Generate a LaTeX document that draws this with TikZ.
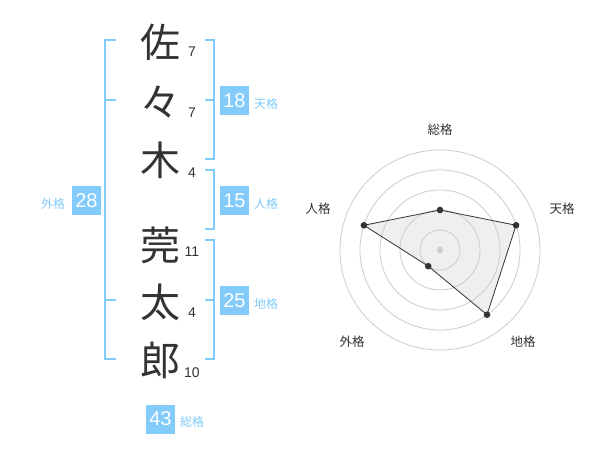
\documentclass[tikz,border=0pt]{standalone}
\usepackage{fontspec}
\setmainfont{Liberation Sans}
\newfontfamily\jp{Noto Sans CJK JP}
\usetikzlibrary{calc}
\definecolor{kakublue}{HTML}{82CBFA}
\definecolor{inkgrey}{HTML}{333333}
\definecolor{ringgrey}{HTML}{CCCCCC}
\tikzset{
	kanji/.style={font=\jp\fontsize{40}{40}\selectfont, text=inkgrey, inner sep=0pt},
	strokes/.style={font=\fontsize{14}{14}\selectfont, text=inkgrey, inner sep=0pt},
	kakubox/.style={fill=kakublue, text=white, minimum size=29pt, inner sep=0pt, font=\fontsize{20}{20}\selectfont},
	kakuname/.style={font=\jp\fontsize{12}{12}\selectfont, text=kakublue, inner sep=0pt},
	bracket/.style={draw=kakublue, line width=2pt},
	radarname/.style={font=\jp\fontsize{12.5}{12.5}\selectfont, text=inkgrey, inner sep=0pt},
	ring/.style={draw=ringgrey, line width=0.8pt}
}

\begin{document}
\begin{tikzpicture}[x=1pt, y=-1pt]
		%%%%% START %%%%%
		\useasboundingbox[fill=white] (0, 0) rectangle (600, 470);
		
		\node[kanji] (c1) at (160, 42) {佐};
		\node[kanji] (c2) at (160, 102) {々};
		\node[kanji] (c3) at (160, 160) {木};
		\node[kanji] (c4) at (160, 245) {莞};
		\node[kanji] (c5) at (160, 302) {太};
		\node[kanji] (c6) at (160, 360) {郎};
		
		\node[strokes] (s1) at (192, 52) {7};
		\node[strokes] (s2) at (192, 113) {7};
		\node[strokes] (s3) at (192, 173) {4};
		\node[strokes] (s4) at (192, 252) {11};
		\node[strokes] (s5) at (192, 313) {4};
		\node[strokes] (s6) at (192, 373) {10};
		
		\draw[bracket] (116, 40) -- (105, 40) -- (105, 359) -- (116, 359);
		\draw[bracket] (105, 100) -- (116, 100);
		\draw[bracket] (105, 300) -- (116, 300);
		\node[kakubox] (gai) at (86.5, 200.5) {28};
		\node[kakuname] (gainame) at (53, 204) {外格};
		
		\draw[bracket] (205, 40) -- (214, 40) -- (214, 159) -- (205, 159);
		\draw[bracket] (205, 100) -- (214, 100);
		\node[kakubox] (ten) at (234.5, 100.5) {18};
		\node[kakuname] (tenname) at (266, 104) {天格};
		
		\draw[bracket] (205, 170) -- (214, 170) -- (214, 229) -- (205, 229);
		\node[kakubox] (jin) at (234.5, 200.5) {15};
		\node[kakuname] (jinname) at (266, 204) {人格};
		
		\draw[bracket] (205, 240) -- (214, 240) -- (214, 359) -- (205, 359);
		\draw[bracket] (205, 300) -- (214, 300);
		\node[kakubox] (chi) at (234.5, 300.5) {25};
		\node[kakuname] (chiname) at (266, 304) {地格};
		
		\node[kakubox] (sou) at (160.5, 419) {43};
		\node[kakuname] (souname) at (192, 422) {総格};
		
		% radar
		\begin{scope}[shift={(440, 250)}, y=1pt]
			\fill[ringgrey!40, opacity=0.8] (90:40) -- (18:80) -- (-54:80) -- (-126:20) -- (162:80) -- cycle;
			\draw[ring] (0, 0) circle (20);
			\draw[ring] (0, 0) circle (40);
			\draw[ring] (0, 0) circle (60);
			\draw[ring] (0, 0) circle (80);
			\draw[ring] (0, 0) circle (100);
			\fill[ringgrey] (0, 0) circle (3.3);
			
			\coordinate (psou) at (90:40);
			\coordinate (pten) at (18:80);
			\coordinate (pchi) at (-54:80);
			\coordinate (pgai) at (-126:20);
			\coordinate (pjin) at (162:80);
			\draw[inkgrey, line width=0.8pt] (psou) -- (pten) -- (pchi) -- (pgai) -- (pjin) -- cycle;
			\fill[inkgrey] (psou) circle (3.3);
			\fill[inkgrey] (pten) circle (3.3);
			\fill[inkgrey] (pchi) circle (3.3);
			\fill[inkgrey] (pgai) circle (3.3);
			\fill[inkgrey] (pjin) circle (3.3);
			
			\node[radarname] (rsou) at (0, 120) {総格};
			\node[radarname] (rten) at (122, 41) {天格};
			\node[radarname] (rchi) at (83, -92) {地格};
			\node[radarname] (rgai) at (-88, -92) {外格};
			\node[radarname] (rjin) at (-122, 41) {人格};
		\end{scope}
		%%%%% END %%%%%
	\end{tikzpicture}
\end{document}
